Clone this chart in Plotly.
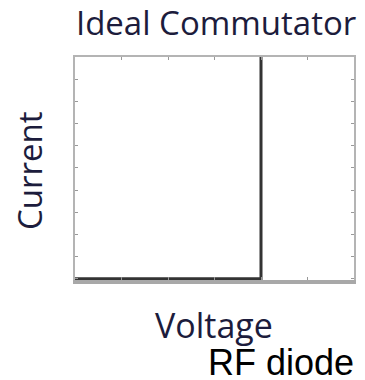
import plotly.graph_objects as go

# ideal commutator I-V characteristic
voltage = [0, 4, 4]
current = [0, 0, 10]

x_ticks = [0, 1, 2, 3, 4, 5, 6]
y_ticks = [0, 1, 2, 3, 4, 5, 6, 7, 8, 9, 10]

title_color = "#1c1c3c"
label_font = "Open Sans"

fig = go.Figure(go.Scatter(
    x=voltage,
    y=current,
    mode="lines",
    line=dict(color="#333333", width=3),
    showlegend=False,
))

tick_style = dict(
    showgrid=False,
    zeroline=False,
    showline=True,
    ticks="inside",
    ticklen=3,
    tickwidth=1,
    tickcolor="#999999",
    showticklabels=False,
)

# bottom axis is drawn heavier than the rest of the frame
fig.update_xaxes(range=[0, 6], tickvals=x_ticks, linecolor="#a8a8a8",
                 linewidth=4, **tick_style)
fig.update_yaxes(range=[-0.06, 10], tickvals=y_ticks, linecolor="#b4b4b4",
                 linewidth=2, mirror="ticks", **tick_style)

# top edge of the frame, with its own ticks
fig.update_layout(xaxis2=dict(overlaying="x", side="top", matches="x",
                              tickvals=x_ticks, linecolor="#b4b4b4",
                              linewidth=2, **tick_style))
fig.add_trace(go.Scatter(x=[], y=[], xaxis="x2", showlegend=False))

# page body has an 8px margin, so the figure is sized to fit the window
fig.update_layout(
    width=357,
    height=372,
    margin=dict(l=67, r=9, t=49, b=100),
    paper_bgcolor="white",
    plot_bgcolor="white",
    title=dict(
        text="Ideal Commutator",
        font=dict(family=label_font, size=33, color=title_color),
        x=0.583, xanchor="center",
        y=0.959, yanchor="middle",
    ),
    annotations=[
        dict(text="Current", xref="paper", yref="paper", x=-0.165, y=0.493,
             xanchor="center", yanchor="middle",
             textangle=-90, showarrow=False,
             font=dict(family=label_font, size=33, color=title_color)),
        dict(text="Voltage", xref="paper", yref="paper", x=0.498, y=-0.2,
             xanchor="center", yanchor="middle",
             showarrow=False,
             font=dict(family=label_font, size=34, color=title_color)),
        dict(text="RF diode", xref="paper", yref="paper", x=0.74, y=-0.371,
             xanchor="center", yanchor="middle",
             showarrow=False,
             font=dict(family="Liberation Sans", size=36, color="black")),
    ],
)

fig.write_html("out.html")
